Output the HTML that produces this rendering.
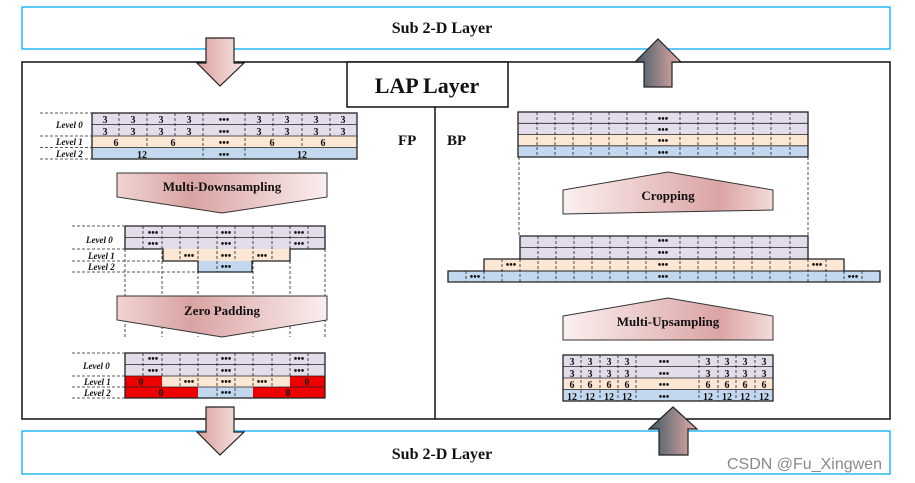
<!DOCTYPE html>
<html><head><meta charset="utf-8"><style>
html,body{margin:0;padding:0;background:#fff}
svg{display:block}
text{font-family:"Liberation Serif",serif;font-weight:bold;fill:#111}
.l{font-style:italic;font-size:9px}
.c{font-size:10px;text-anchor:middle}
.d{stroke:#222;stroke-width:0.8;stroke-dasharray:3,2}
.g{stroke:#222;stroke-width:1.3;fill:none}
</style></head><body>
<svg width="915" height="483" viewBox="0 0 915 483" xmlns="http://www.w3.org/2000/svg">
<defs>
<linearGradient id="pd" x1="0" x2="1"><stop offset="0" stop-color="#f0d4d2"/><stop offset="0.35" stop-color="#d9a3a2"/><stop offset="1" stop-color="#fbeeee"/></linearGradient>
<linearGradient id="pu" x1="0" x2="1"><stop offset="0" stop-color="#fbf0f0"/><stop offset="0.75" stop-color="#dba4a3"/><stop offset="1" stop-color="#f3dcdb"/></linearGradient>
<linearGradient id="ad" x1="0" x2="1"><stop offset="0" stop-color="#d9a09c"/><stop offset="1" stop-color="#f6e6e4"/></linearGradient>
<linearGradient id="au" x1="0" x2="1"><stop offset="0" stop-color="#3e5866"/><stop offset="1" stop-color="#e5aca6"/></linearGradient>
</defs>
<rect x="22" y="7" width="868" height="42" fill="#fff" stroke="#29b6f6" stroke-width="1.5"/>
<text x="442" y="33" font-size="16" text-anchor="middle">Sub 2-D Layer</text>
<rect x="22" y="62" width="868" height="357" fill="none" stroke="#111" stroke-width="1.5"/>
<rect x="22" y="431" width="868" height="43" fill="#fff" stroke="#29b6f6" stroke-width="1.5"/>
<text x="442" y="459" font-size="16" text-anchor="middle">Sub 2-D Layer</text>
<rect x="347" y="62" width="161" height="45" fill="#fff" stroke="#111" stroke-width="1.5"/>
<text x="427" y="93" font-size="22" text-anchor="middle">LAP Layer</text>
<line x1="435" y1="107" x2="435" y2="419" stroke="#111" stroke-width="1.5"/>
<text x="398" y="145" font-size="15">FP</text>
<text x="447" y="145" font-size="15">BP</text>
<polygon points="206,38 234,38 234,63 244,63 220,86 197,63 206,63" fill="url(#ad)" stroke="#222" stroke-width="1.2"/>
<polygon points="644,87 672,87 672,62 681,62 658,39 635,62 644,62" fill="url(#au)" stroke="#222" stroke-width="1.2"/>
<polygon points="206,407 234,407 234,432 244,432 220,455 197,432 206,432" fill="url(#ad)" stroke="#222" stroke-width="1.2"/>
<polygon points="659,455 688,455 688,429 697,429 673,407 649,429 659,429" fill="url(#au)" stroke="#222" stroke-width="1.2"/>

<rect x="92" y="113" width="265" height="23" fill="#e3dcea"/>
<rect x="92" y="136" width="265" height="11.5" fill="#fce6d4"/>
<rect x="92" y="147.5" width="265" height="11.5" fill="#c3d8ef"/>
<line x1="92" y1="124.5" x2="357" y2="124.5" stroke="#222" stroke-width="0.8"/>
<line x1="92" y1="136" x2="357" y2="136" stroke="#222" stroke-width="0.8"/>
<line x1="92" y1="147.5" x2="357" y2="147.5" stroke="#222" stroke-width="0.8"/>
<g class="d"><line x1="119" y1="113" x2="119" y2="136"/><line x1="147" y1="113" x2="147" y2="147"/><line x1="175" y1="113" x2="175" y2="136"/><line x1="203" y1="113" x2="203" y2="159"/><line x1="245" y1="113" x2="245" y2="159"/><line x1="273" y1="113" x2="273" y2="136"/><line x1="302" y1="113" x2="302" y2="147"/><line x1="330" y1="113" x2="330" y2="136"/>
<line x1="40" y1="113" x2="92" y2="113"/><line x1="40" y1="136" x2="92" y2="136"/><line x1="40" y1="147.5" x2="92" y2="147.5"/><line x1="40" y1="159" x2="92" y2="159"/></g>
<rect x="92" y="113" width="265" height="46" class="g"/>
<text class="l" x="56" y="128">Level 0</text><text class="l" x="56" y="145">Level 1</text><text class="l" x="56" y="157">Level 2</text>
<g class="c"><text x="105" y="123">3</text><text x="133" y="123">3</text><text x="161" y="123">3</text><text x="189" y="123">3</text><text x="224" y="123">•••</text><text x="259" y="123">3</text><text x="287" y="123">3</text><text x="316" y="123">3</text><text x="343" y="123">3</text>
<text x="105" y="135">3</text><text x="133" y="135">3</text><text x="161" y="135">3</text><text x="189" y="135">3</text><text x="224" y="135">•••</text><text x="259" y="135">3</text><text x="287" y="135">3</text><text x="316" y="135">3</text><text x="343" y="135">3</text>
<text x="116" y="146">6</text><text x="173" y="146">6</text><text x="224" y="146">•••</text><text x="272" y="146">6</text><text x="323" y="146">6</text>
<text x="142" y="158">12</text><text x="224" y="158">•••</text><text x="302" y="158">12</text></g>

<polygon points="117,173 327,173 327,197 222,213 117,197" fill="url(#pd)" stroke="#333" stroke-width="1"/>
<text x="222" y="191" font-size="13" text-anchor="middle">Multi-Downsampling</text>

<rect x="125" y="226" width="200" height="23" fill="#e3dcea"/>
<rect x="163" y="249" width="127" height="12" fill="#fce6d4"/>
<rect x="198" y="261" width="54" height="11" fill="#c3d8ef"/>
<g class="d"><line x1="143" y1="226" x2="143" y2="249"/><line x1="162" y1="226" x2="162" y2="337"/><line x1="180" y1="226" x2="180" y2="261"/><line x1="217" y1="226" x2="217" y2="272"/><line x1="235" y1="226" x2="235" y2="261"/><line x1="198" y1="226" x2="198" y2="337"/><line x1="253" y1="226" x2="253" y2="337"/><line x1="272" y1="226" x2="272" y2="261"/><line x1="290" y1="226" x2="290" y2="337"/><line x1="308" y1="226" x2="308" y2="249"/><line x1="125" y1="249" x2="125" y2="337"/><line x1="325" y1="249" x2="325" y2="337"/>
<line x1="72" y1="226" x2="125" y2="226"/><line x1="72" y1="249" x2="163" y2="249"/><line x1="72" y1="261" x2="198" y2="261"/><line x1="72" y1="272" x2="198" y2="272"/></g>
<line x1="125" y1="237.5" x2="325" y2="237.5" stroke="#222" stroke-width="0.8"/>
<polyline points="125,226 325,226 325,249 290,249 290,261 252,261 252,272 198,272 198,261 163,261 163,249 125,249 125,226" class="g"/>
<text class="l" x="86" y="243">Level 0</text><text class="l" x="88" y="259">Level 1</text><text class="l" x="88" y="270">Level 2</text>
<g class="c"><text x="153" y="236">•••</text><text x="226" y="236">•••</text><text x="299" y="236">•••</text><text x="153" y="247">•••</text><text x="226" y="247">•••</text><text x="299" y="247">•••</text><text x="189" y="259">•••</text><text x="226" y="259">•••</text><text x="262" y="259">•••</text><text x="226" y="270">•••</text></g>

<polygon points="117,296 327,296 327,320 222,337 117,320" fill="url(#pd)" stroke="#333" stroke-width="1"/>
<text x="222" y="315" font-size="13" text-anchor="middle">Zero Padding</text>

<rect x="125" y="353" width="200" height="23" fill="#e3dcea"/>
<rect x="125" y="376" width="200" height="11" fill="#fce6d4"/>
<rect x="125" y="387" width="200" height="11" fill="#c3d8ef"/>
<rect x="125" y="376" width="37" height="11" fill="#ee0000"/><rect x="290" y="376" width="35" height="11" fill="#ee0000"/>
<rect x="125" y="387" width="73" height="11" fill="#ee0000"/><rect x="253" y="387" width="72" height="11" fill="#ee0000"/>
<g class="d"><line x1="143" y1="353" x2="143" y2="376"/><line x1="162" y1="353" x2="162" y2="376"/><line x1="180" y1="353" x2="180" y2="387"/><line x1="198" y1="353" x2="198" y2="387"/><line x1="217" y1="353" x2="217" y2="398"/><line x1="235" y1="353" x2="235" y2="398"/><line x1="253" y1="353" x2="253" y2="387"/><line x1="272" y1="353" x2="272" y2="387"/><line x1="290" y1="353" x2="290" y2="376"/><line x1="308" y1="353" x2="308" y2="376"/>
<line x1="72" y1="353" x2="125" y2="353"/><line x1="72" y1="376" x2="125" y2="376"/><line x1="72" y1="387" x2="125" y2="387"/><line x1="72" y1="398" x2="125" y2="398"/></g>
<line x1="125" y1="364.5" x2="325" y2="364.5" stroke="#222" stroke-width="0.8"/>
<line x1="125" y1="376" x2="325" y2="376" stroke="#222" stroke-width="0.8"/>
<line x1="125" y1="387" x2="325" y2="387" stroke="#222" stroke-width="0.8"/>
<rect x="125" y="353" width="200" height="45" class="g"/>
<text class="l" x="83" y="369">Level 0</text><text class="l" x="84" y="385">Level 1</text><text class="l" x="84" y="396">Level 2</text>
<g class="c"><text x="153" y="362">•••</text><text x="226" y="362">•••</text><text x="299" y="362">•••</text><text x="153" y="374">•••</text><text x="226" y="374">•••</text><text x="299" y="374">•••</text>
<text x="141" y="385">0</text><text x="189" y="385">•••</text><text x="226" y="385">•••</text><text x="262" y="385">•••</text><text x="307" y="385">0</text>
<text x="161" y="396">0</text><text x="226" y="396">•••</text><text x="288" y="396">0</text></g>

<rect x="518" y="112" width="290" height="22.5" fill="#e3dcea"/>
<rect x="518" y="134.5" width="290" height="11.3" fill="#fce6d4"/>
<rect x="518" y="145.8" width="290" height="11.2" fill="#c3d8ef"/>
<g stroke="#222" stroke-width="0.8"><line x1="518" y1="123.3" x2="808" y2="123.3"/><line x1="518" y1="134.5" x2="808" y2="134.5"/><line x1="518" y1="145.8" x2="808" y2="145.8"/></g>
<g class="d"><line x1="537" y1="112" x2="537" y2="157"/><line x1="555" y1="112" x2="555" y2="157"/><line x1="573" y1="112" x2="573" y2="157"/><line x1="591" y1="112" x2="591" y2="157"/><line x1="609" y1="112" x2="609" y2="157"/><line x1="627" y1="112" x2="627" y2="157"/><line x1="646" y1="112" x2="646" y2="157"/><line x1="680" y1="112" x2="680" y2="157"/><line x1="698" y1="112" x2="698" y2="157"/><line x1="717" y1="112" x2="717" y2="157"/><line x1="735" y1="112" x2="735" y2="157"/><line x1="753" y1="112" x2="753" y2="157"/><line x1="771" y1="112" x2="771" y2="157"/><line x1="790" y1="112" x2="790" y2="157"/>
<line x1="519" y1="157" x2="519" y2="236"/><line x1="808" y1="157" x2="808" y2="236"/></g>
<rect x="518" y="112" width="290" height="45" class="g"/>
<g class="c"><text x="663" y="122">•••</text><text x="663" y="133">•••</text><text x="663" y="144">•••</text><text x="663" y="156">•••</text></g>

<polygon points="563,190 668,172 773,190 773,210 563,214" fill="url(#pu)" stroke="#333" stroke-width="1"/>
<text x="668" y="200" font-size="13" text-anchor="middle">Cropping</text>

<rect x="520" y="236" width="288" height="23" fill="#e3dcea"/>
<rect x="484" y="259" width="360" height="12" fill="#fce6d4"/>
<rect x="448" y="271" width="432" height="11" fill="#c3d8ef"/>
<g stroke="#222" stroke-width="0.8"><line x1="520" y1="247.5" x2="808" y2="247.5"/></g>
<g class="d"><line x1="538" y1="236" x2="538" y2="282"/><line x1="556" y1="236" x2="556" y2="282"/><line x1="574" y1="236" x2="574" y2="282"/><line x1="592" y1="236" x2="592" y2="282"/><line x1="610" y1="236" x2="610" y2="282"/><line x1="628" y1="236" x2="628" y2="282"/><line x1="646" y1="236" x2="646" y2="282"/><line x1="680" y1="236" x2="680" y2="282"/><line x1="698" y1="236" x2="698" y2="282"/><line x1="716" y1="236" x2="716" y2="282"/><line x1="734" y1="236" x2="734" y2="282"/><line x1="752" y1="236" x2="752" y2="282"/><line x1="770" y1="236" x2="770" y2="282"/><line x1="790" y1="236" x2="790" y2="282"/>
<line x1="502" y1="259" x2="502" y2="282"/><line x1="520" y1="259" x2="520" y2="282"/><line x1="826" y1="259" x2="826" y2="282"/><line x1="808" y1="259" x2="808" y2="282"/><line x1="466" y1="271" x2="466" y2="282"/><line x1="484" y1="271" x2="484" y2="282"/><line x1="844" y1="271" x2="844" y2="282"/><line x1="862" y1="271" x2="862" y2="282"/></g>
<polyline points="520,259 520,236 808,236 808,259 844,259 844,271 880,271 880,282 448,282 448,271 484,271 484,259 520,259 808,259" class="g"/>
<line x1="484" y1="271" x2="844" y2="271" stroke="#222" stroke-width="1"/>
<g class="c"><text x="663" y="244">•••</text><text x="663" y="256">•••</text><text x="663" y="268">•••</text><text x="663" y="280">•••</text><text x="511" y="268">•••</text><text x="817" y="268">•••</text><text x="475" y="280">•••</text><text x="853" y="280">•••</text></g>

<polygon points="563,316 668,298 773,316 773,340 563,340" fill="url(#pu)" stroke="#333" stroke-width="1"/>
<text x="668" y="326" font-size="13" text-anchor="middle">Multi-Upsampling</text>

<rect x="563" y="355" width="210" height="23" fill="#e3dcea"/>
<rect x="563" y="378" width="210" height="11.5" fill="#fce6d4"/>
<rect x="563" y="389.5" width="210" height="11.5" fill="#c3d8ef"/>
<g stroke="#222" stroke-width="0.8"><line x1="563" y1="366.5" x2="773" y2="366.5"/><line x1="563" y1="378" x2="773" y2="378"/><line x1="563" y1="389.5" x2="773" y2="389.5"/></g>
<g class="d"><line x1="581" y1="355" x2="581" y2="401"/><line x1="600" y1="355" x2="600" y2="401"/><line x1="618" y1="355" x2="618" y2="401"/><line x1="636" y1="355" x2="636" y2="401"/><line x1="699" y1="355" x2="699" y2="401"/><line x1="718" y1="355" x2="718" y2="401"/><line x1="736" y1="355" x2="736" y2="401"/><line x1="755" y1="355" x2="755" y2="401"/></g>
<rect x="563" y="355" width="210" height="46" class="g"/>
<g class="c"><text x="572" y="365">3</text><text x="590" y="365">3</text><text x="609" y="365">3</text><text x="627" y="365">3</text><text x="664" y="365">•••</text><text x="708" y="365">3</text><text x="727" y="365">3</text><text x="745" y="365">3</text><text x="764" y="365">3</text>
<text x="572" y="377">3</text><text x="590" y="377">3</text><text x="609" y="377">3</text><text x="627" y="377">3</text><text x="664" y="377">•••</text><text x="708" y="377">3</text><text x="727" y="377">3</text><text x="745" y="377">3</text><text x="764" y="377">3</text>
<text x="572" y="388">6</text><text x="590" y="388">6</text><text x="609" y="388">6</text><text x="627" y="388">6</text><text x="664" y="388">•••</text><text x="708" y="388">6</text><text x="727" y="388">6</text><text x="745" y="388">6</text><text x="764" y="388">6</text>
<text x="572" y="400">12</text><text x="590" y="400">12</text><text x="609" y="400">12</text><text x="627" y="400">12</text><text x="664" y="400">•••</text><text x="708" y="400">12</text><text x="727" y="400">12</text><text x="745" y="400">12</text><text x="764" y="400">12</text></g>

<text x="727" y="469" font-size="16" style="font-family:'Liberation Sans',sans-serif;font-weight:normal;fill:#8a8a8a">CSDN @Fu_Xingwen</text>
</svg>
</body></html>
